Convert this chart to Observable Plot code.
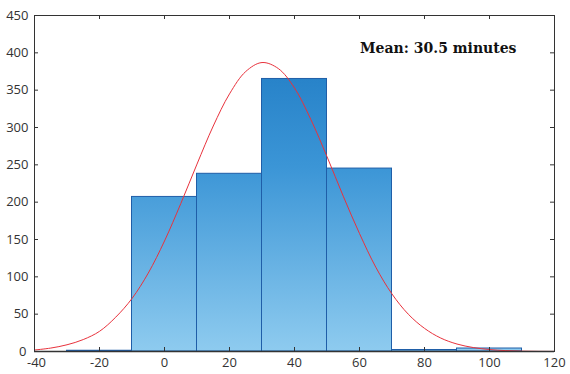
<!DOCTYPE html>
<html>
<head>
<meta charset="utf-8">
<script src="https://cdn.jsdelivr.net/npm/d3@7"></script>
<script src="https://cdn.jsdelivr.net/npm/@observablehq/plot@0.6"></script>
<style>
  html, body { margin: 0; padding: 0; background: #fff; }
  #chart svg { display: block; }
</style>
</head>
<body>
<div id="chart"></div>
<script>
// Histogram bins (minutes) and counts
const binStart = [-30, -10, 10, 30, 50, 70, 90];
const binEnd   = [-10,  10, 30, 50, 70, 90, 110];
const counts   = [  1, 207, 238, 365, 245,  2,   4];

// Fitted normal curve
const curveX = [-40, -35, -30, -25, -20, -15, -10, -5,   0,   5,  10,  15,  20,  25,  30,  35,  40,  45,  50,  55,  60,  65, 70, 75, 80, 85, 90, 95, 100, 105, 110, 115, 120];
const curveY = [  2, 4.6,   9,  16,  27,  46,  71, 105, 148, 198, 251, 302, 345, 375, 387, 379, 353, 311, 261, 208, 158, 113, 77, 50, 31, 18, 10, 5.3, 2.6, 1.2, 0.5, 0.2, 0.1];

const xTicks = [-40, -20, 0, 20, 40, 60, 80, 100, 120];
const yTicks = [0, 50, 100, 150, 200, 250, 300, 350, 400, 450];
const annotation = "Mean: 30.5 minutes";

const bars = binStart.map((s, i) => ({x1: s, x2: binEnd[i], y: counts[i]}));
const curve = curveX.map((x, i) => ({x, y: curveY[i]}));

const W = 570, H = 374;
const mL = 34, mR = 16, mT = 15, mB = 23;
const xDomain = [-40, 120], yDomain = [0, 450];
const tickPx = 4;
const dxUnit = (xDomain[1] - xDomain[0]) / (W - mL - mR) * tickPx;
const dyUnit = (yDomain[1] - yDomain[0]) / (H - mT - mB) * tickPx;
const tickFont = "'Open Sans', sans-serif";

const xFirst = xTicks.filter(d => d === xDomain[0]);
const xRest = xTicks.filter(d => d !== xDomain[0]);
const yFirst = yTicks.filter(d => d === yDomain[0]);
const yRest = yTicks.filter(d => d !== yDomain[0]);
const labelStyle = {fill: "#333", fontSize: 13, fontFamily: tickFont};

const chart = Plot.plot({
  width: W, height: H,
  marginLeft: mL, marginRight: mR, marginTop: mT, marginBottom: mB,
  style: {fontFamily: tickFont, fontSize: "13px", color: "#333", background: "#fff"},
  x: {domain: xDomain, axis: null},
  y: {domain: yDomain, axis: null},
  marks: [
    Plot.rectY(bars, {x1: "x1", x2: "x2", y: "y", fill: "url(#barGrad)", stroke: "#1f5ea8", strokeWidth: 1}),
    Plot.line(curve, {x: "x", y: "y", stroke: "#e8323c", strokeWidth: 1, curve: "catmull-rom"}),
    Plot.frame({stroke: "#333", strokeWidth: 1}),
    Plot.ruleY([0], {stroke: "#333", strokeWidth: 1.5}),
    // inward ticks on all four sides
    Plot.ruleX(xTicks, {y1: 0, y2: dyUnit, stroke: "#333"}),
    Plot.ruleX(xTicks, {y1: 450, y2: 450 - dyUnit, stroke: "#333"}),
    Plot.ruleY(yTicks, {x1: -40, x2: -40 + dxUnit, stroke: "#333"}),
    Plot.ruleY(yTicks, {x1: 120, x2: 120 - dxUnit, stroke: "#333"}),
    // tick labels
    Plot.text(xRest, {x: d => d, frameAnchor: "bottom", dy: 15, text: d => String(d), ...labelStyle}),
    Plot.text(xFirst, {x: d => d, frameAnchor: "bottom", dy: 15, dx: 2, text: d => String(d), ...labelStyle}),
    Plot.text(yRest, {y: d => d, frameAnchor: "left", dx: -6, textAnchor: "end", text: d => String(d), ...labelStyle}),
    Plot.text(yFirst, {y: d => d, frameAnchor: "left", dx: -8, textAnchor: "end", text: d => String(d), ...labelStyle}),
    Plot.text([annotation], {frameAnchor: "top-right", dx: -38, dy: 28, text: d => d, fontFamily: "'DejaVu Serif', serif", fontWeight: "bold", fontSize: 14, fill: "#111", textAnchor: "end"})
  ]
});

// gradient for the bars (in plot user space)
const svg = d3.select(chart);
const defs = svg.insert("defs", ":first-child");
const g = defs.append("linearGradient")
  .attr("id", "barGrad")
  .attr("gradientUnits", "userSpaceOnUse")
  .attr("x1", 0).attr("x2", 0)
  .attr("y1", mT).attr("y2", H - mB);
g.append("stop").attr("offset", "0%").attr("stop-color", "#1a76c0");
g.append("stop").attr("offset", "45%").attr("stop-color", "#3b95d6");
g.append("stop").attr("offset", "100%").attr("stop-color", "#8ecbef");

document.getElementById("chart").appendChild(chart);
</script>
</body>
</html>
